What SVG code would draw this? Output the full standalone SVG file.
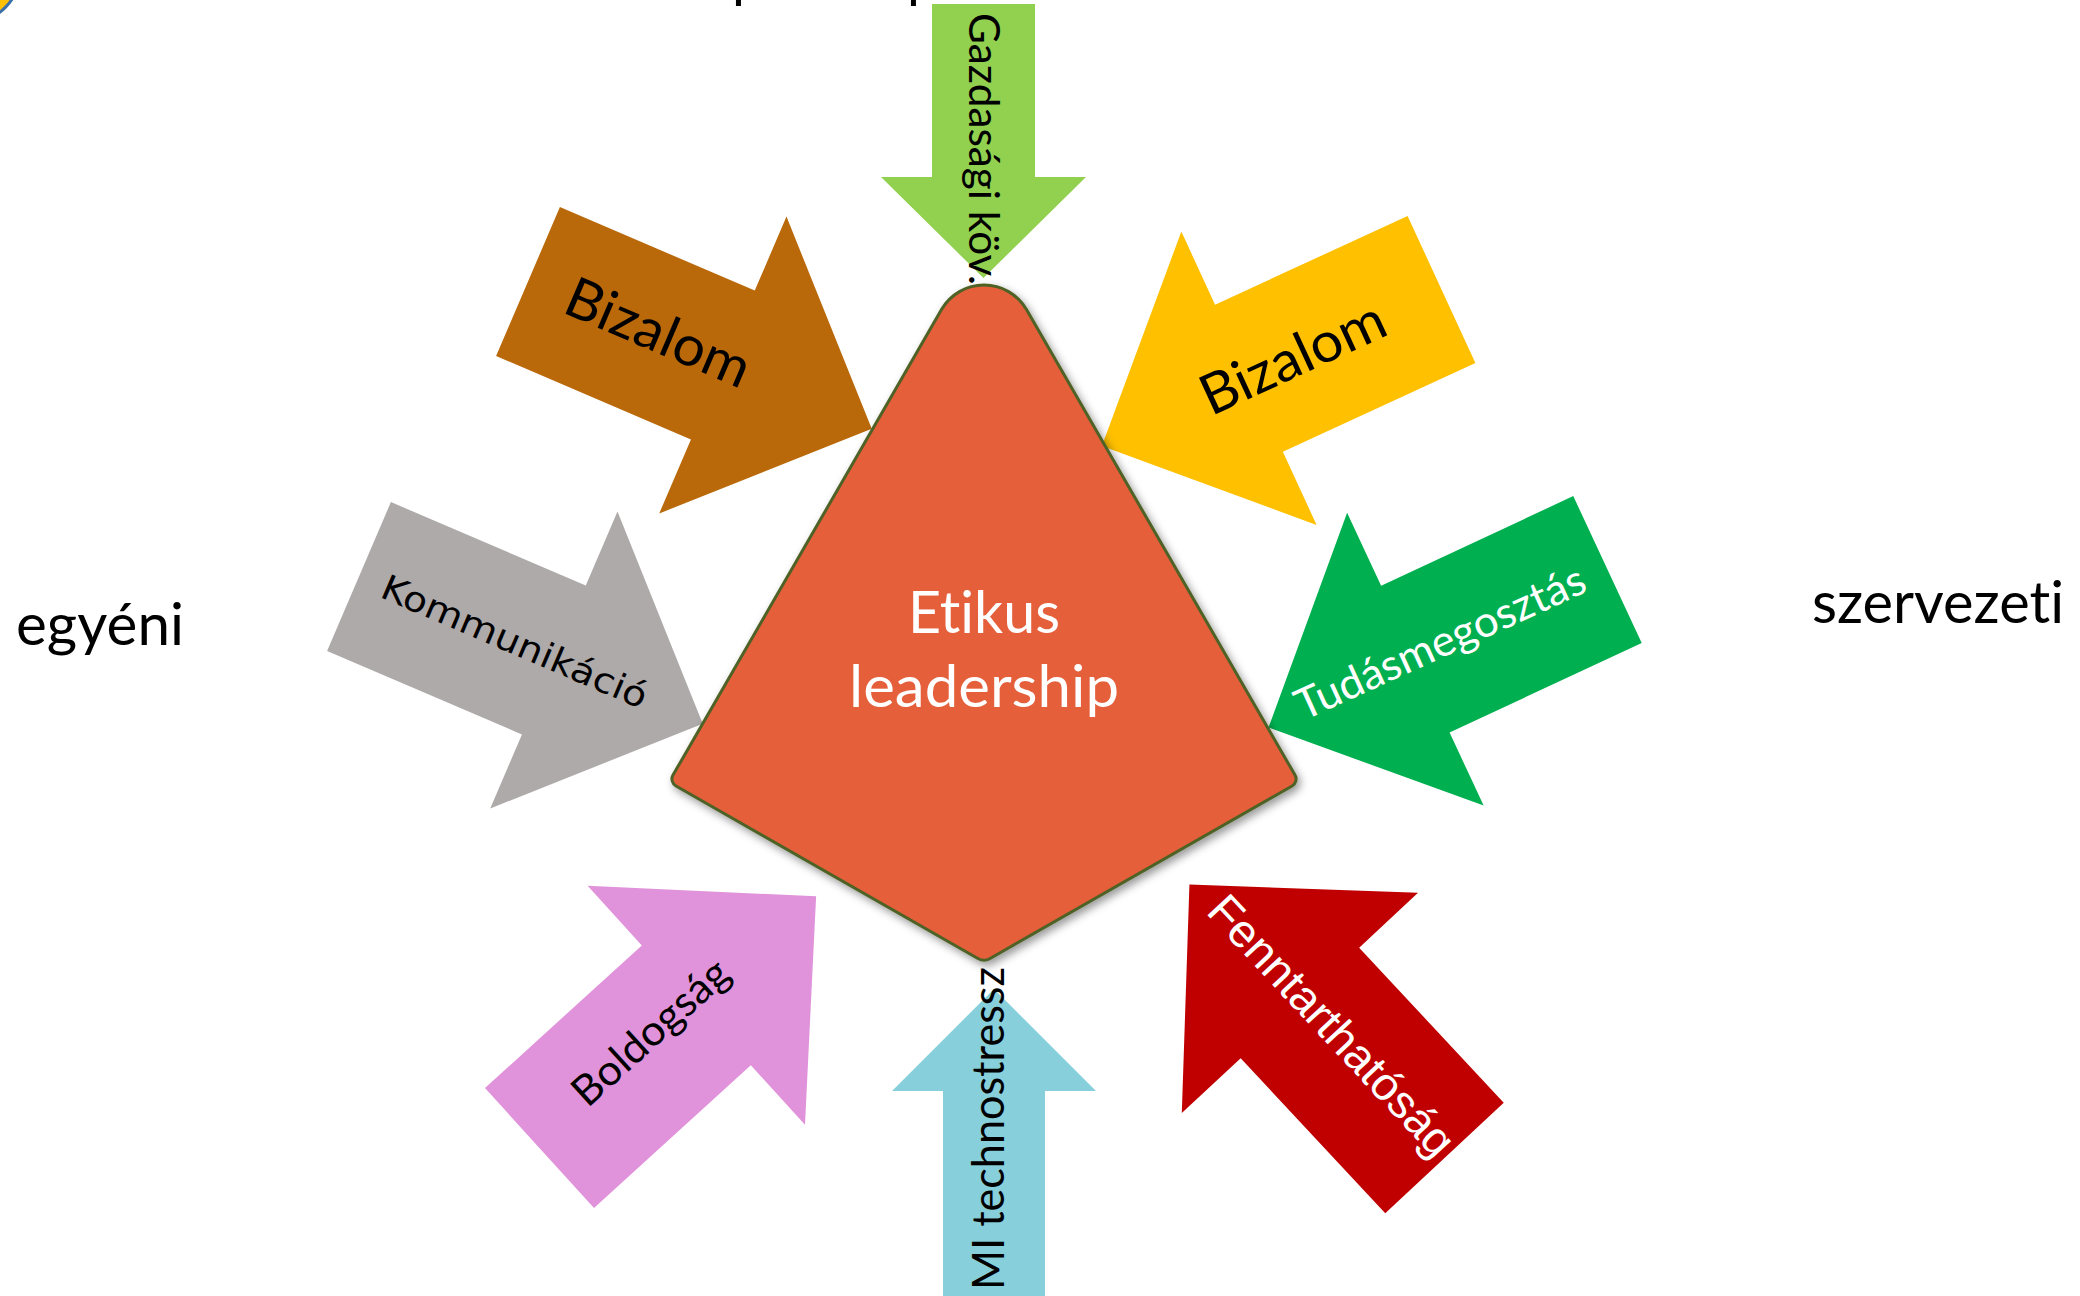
<svg xmlns="http://www.w3.org/2000/svg" width="2080" height="1296" viewBox="0 0 2080 1296">
  <defs>
    <style>
      text { font-variant-ligatures: none; font-kerning: normal; }
      .sans { font-family: Lato, "Open Sans", "Liberation Sans", sans-serif; }
      .dv { font-family: "DejaVu Sans", Verdana, sans-serif; }
      .arial { font-family: "Liberation Sans", Arial, sans-serif; }
      .dark { fill: #000000; }
      .light { fill: #ffffff; }
      .core { fill: #E55E3A; stroke: #4F6228; stroke-width: 3; }
    </style>
    <!-- block arrow pointing along +x, tail centred on the origin -->
    <path id="blockArrow" d="M0,-81 H212 V-161.5 L374,0 L212,161.5 V81 H0 Z"/>
    <filter id="softShadow" x="-10%" y="-10%" width="130%" height="130%">
      <feDropShadow dx="3" dy="4" stdDeviation="4" flood-color="#000000" flood-opacity="0.4"/>
    </filter>
  </defs>

  <rect width="2080" height="1296" fill="#ffffff"/>

  <!-- slide header, cut off by the top edge -->
  <g id="header">
    <circle cx="-30" cy="-28" r="50" fill="#FFC000" stroke="#3D6FA8" stroke-width="3"/>
    <text class="sans dark" x="732" y="-4" font-size="56">p</text>
    <text class="sans dark" x="907" y="-4" font-size="56">p</text>
  </g>

  <!-- side labels -->
  <g id="label-egyeni">
    <text class="sans dark" x="16" y="645" font-size="58" textLength="168" lengthAdjust="spacingAndGlyphs">egyéni</text>
  </g>
  <g id="label-szervezeti">
    <text class="sans dark" x="1812" y="623" font-size="58" textLength="252" lengthAdjust="spacingAndGlyphs">szervezeti</text>
  </g>

  <!-- top arrow -->
  <g id="arrow-gazdasagi">
    <polygon points="932,4 1035,4 1035,177 1086,177 983.5,278 881,177 932,177" fill="#92D050"/>
    <text class="sans dark" transform="translate(969,13) rotate(90)" x="0" y="0" font-size="43" textLength="272" lengthAdjust="spacingAndGlyphs">Gazdasági köv.</text>
  </g>

  <!-- bottom arrow -->
  <g id="arrow-technostressz">
    <polygon points="943,1296 943,1091 892,1091 994,989 1096,1091 1045,1091 1045,1296" fill="#87CFDA"/>
    <text class="sans dark" transform="translate(1004,1290) rotate(-90)" x="0" y="0" font-size="44" textLength="323" lengthAdjust="spacingAndGlyphs">MI technostressz</text>
  </g>

  <!-- upper left arrow -->
  <g id="arrow-bizalom-left">
    <use href="#blockArrow" transform="translate(528,281.5) rotate(23.2)" fill="#B9690A"/>
    <text class="sans dark" transform="translate(659,331) rotate(23.2)" x="0" y="21" text-anchor="middle" font-size="56" textLength="196" lengthAdjust="spacingAndGlyphs">Bizalom</text>
  </g>

  <!-- upper right arrow -->
  <g id="arrow-bizalom-right">
    <use href="#blockArrow" transform="translate(1441.5,289.5) rotate(155.25)" fill="#FFC000"/>
    <text class="sans dark" transform="translate(1292,356) rotate(-24.75)" x="0" y="21" text-anchor="middle" font-size="56" textLength="198" lengthAdjust="spacingAndGlyphs">Bizalom</text>
  </g>

  <!-- middle left arrow -->
  <g id="arrow-kommunikacio">
    <use href="#blockArrow" transform="translate(359,576.5) rotate(23.2)" fill="#AEAAAA"/>
    <text class="dv dark" transform="translate(515,641) rotate(23.2)" x="0" y="13" text-anchor="middle" font-size="35" textLength="286" lengthAdjust="spacingAndGlyphs">Kommunikáció</text>
  </g>

  <!-- middle right arrow -->
  <g id="arrow-tudasmegosztas">
    <use href="#blockArrow" transform="translate(1607.5,569.5) rotate(155)" fill="#00B050"/>
    <text class="sans light" transform="translate(1441,644) rotate(-24.5)" x="0" y="13" text-anchor="middle" font-size="43" textLength="314" lengthAdjust="spacingAndGlyphs">Tudásmegosztás</text>
  </g>

  <!-- lower left arrow -->
  <g id="arrow-boldogsag">
    <use href="#blockArrow" transform="translate(539.5,1148) rotate(-42.3)" fill="#E093DA"/>
    <text class="sans dark" transform="translate(652,1034) rotate(-42.3)" x="0" y="12" text-anchor="middle" font-size="42" textLength="196" lengthAdjust="spacingAndGlyphs">Boldogság</text>
  </g>

  <!-- lower right arrow -->
  <g id="arrow-fenntarthatosag">
    <use href="#blockArrow" transform="translate(1444.5,1158) rotate(-133)" fill="#C00000"/>
    <text class="arial light" transform="translate(1329,1028) rotate(47)" x="0" y="12" text-anchor="middle" font-size="46" textLength="338" lengthAdjust="spacingAndGlyphs">Fenntarthatóság</text>
  </g>

  <!-- central shape -->
  <g id="etikus-leadership">
    <path class="core" filter="url(#softShadow)" d="M941.5,309.6 A49,49 0 0 1 1026.5,309.6 L1295,775.1 A8,8 0 0 1 1292.1,786 L990.1,958.5 A12,12 0 0 1 977.9,958.5 L676,786 A8,8 0 0 1 673,775.1 Z"/>
    <text class="sans light" x="984" y="633" text-anchor="middle" font-size="58" textLength="152" lengthAdjust="spacingAndGlyphs">Etikus</text>
    <text class="sans light" x="984" y="707" text-anchor="middle" font-size="58" textLength="270" lengthAdjust="spacingAndGlyphs">leadership</text>
  </g>
</svg>
